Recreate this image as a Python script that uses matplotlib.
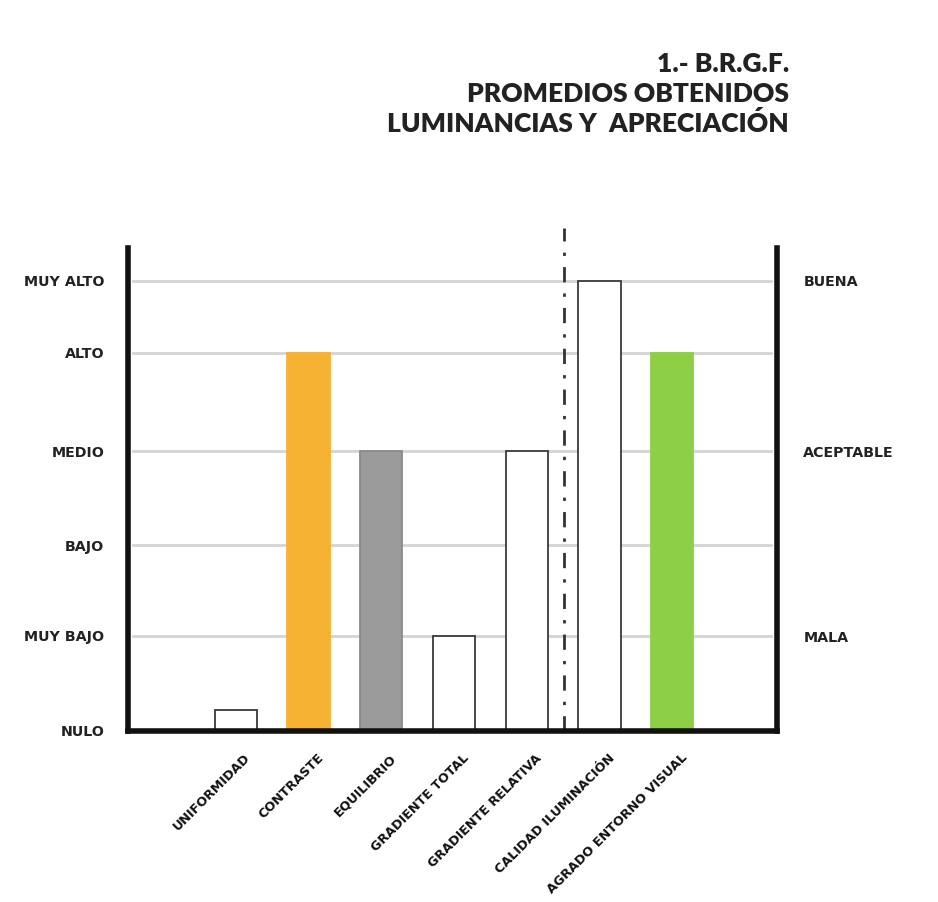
import matplotlib
matplotlib.use("Agg")
import matplotlib.pyplot as plt
import matplotlib.transforms as mtransforms

# Average luminance ratings per criterion
categories = ["UNIFORMIDAD", "CONTRASTE", "EQUILIBRIO", "GRADIENTE TOTAL",
              "GRADIENTE RELATIVA", "CALIDAD ILUMINACIÓN", "AGRADO ENTORNO VISUAL"]
values = [0.21, 3.78, 2.8, 0.95, 2.8, 4.5, 3.78]
colors = ["white", "#F6B233", "#9B9B9B", "white", "white", "white", "#8DCF45"]
edges = ["#3A3A3A", "#F6B233", "#8A8A8A", "#3A3A3A", "#3A3A3A", "#3A3A3A", "#8DCF45"]

# Qualitative scale (left) and appreciation scale (right)
level_labels = ["NULO", "MUY BAJO", "BAJO", "MEDIO", "ALTO", "MUY ALTO"]
level_values = [0.0, 0.95, 1.86, 2.8, 3.78, 4.5]
appr_labels = ["MALA", "ACEPTABLE", "BUENA"]
appr_values = [0.95, 2.8, 4.5]

title = "1.- B.R.G.F.\nPROMEDIOS OBTENIDOS\nLUMINANCIAS Y  APRECIACIÓN"

TITLE_FONT = "Lato"
LABEL_FONT = "DejaVu Sans"

fig = plt.figure(figsize=(9.38, 9.02), dpi=100)
fig.patch.set_facecolor("white")
ax = fig.add_axes([128 / 938, 171 / 902, (777 - 128) / 938, (731 - 248) / 902])

x = list(range(len(categories)))
ax.set_xlim(-1.48, 7.44)
ax.set_ylim(0, 4.83)

# horizontal reference lines for the levels above zero
for v in level_values[1:]:
    ax.axhline(v, xmin=0.008, xmax=0.99, color="#D4D4D4", lw=2, zorder=1)

ax.bar(x, values, width=0.58, color=colors, edgecolor=edges, linewidth=1.3, zorder=3)

# dash-dot divider between luminance criteria and appreciation
ax.plot([4.51, 4.51], [0, 5.03], color="#333333", lw=2, ls=(0, (5.5, 4, 1.2, 4)),
        zorder=4, clip_on=False)

ax.spines["top"].set_visible(False)
for side in ("left", "right", "bottom"):
    ax.spines[side].set_linewidth(4)
    ax.spines[side].set_color("#111111")
    ax.spines[side].set_zorder(5)

ax.set_yticks(level_values)
ax.set_yticklabels(level_labels, fontfamily=LABEL_FONT, fontweight="bold",
                   fontsize=10.3, color="#222222")
ax.tick_params(axis="y", length=0, pad=17)

ax.set_xticks(x)
ax.set_xticklabels(categories, rotation=45, ha="right", va="center",
                   rotation_mode="anchor", fontfamily=LABEL_FONT, fontweight="bold",
                   fontsize=9.2, color="#111111")
ax.tick_params(axis="x", length=0, pad=18)
shift = mtransforms.ScaledTranslation(13 / 100, 0, fig.dpi_scale_trans)
for lab in ax.get_xticklabels():
    lab.set_transform(lab.get_transform() + shift)

ax2 = ax.twinx()
ax2.set_ylim(ax.get_ylim())
ax2.set_yticks(appr_values)
ax2.set_yticklabels(appr_labels, fontfamily=LABEL_FONT, fontweight="bold",
                    fontsize=10.3, color="#222222")
ax2.tick_params(axis="y", length=0, pad=19)
for s in ax2.spines.values():
    s.set_visible(False)

fig.text(789 / 938, 1 - 52 / 902, title, ha="right", va="top", fontfamily=TITLE_FONT,
         fontweight="heavy", fontsize=19, color="#222222", linespacing=1.28)

fig.savefig("out.png", dpi=100, facecolor="white")
